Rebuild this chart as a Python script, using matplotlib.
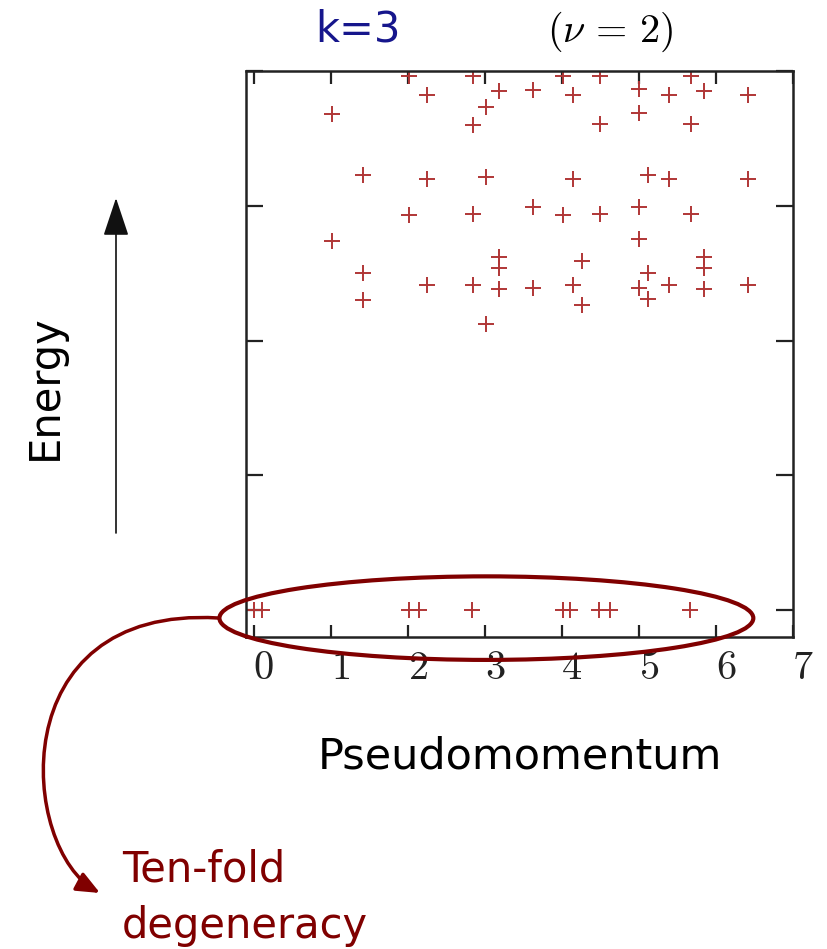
import matplotlib
matplotlib.use('Agg')
import matplotlib.pyplot as plt
from matplotlib.patches import Ellipse, FancyArrowPatch
from matplotlib.path import Path
from matplotlib.transforms import ScaledTranslation

plt.rcParams['font.family'] = ['DejaVu Sans']
plt.rcParams['mathtext.fontset'] = 'cm'

# ground-state manifold (E = 0)
ground_k = [0.0, 0.11, 2.01, 2.14, 2.83, 4.01, 4.11, 4.48, 4.62, 5.66]
ground_e = [0.0] * len(ground_k)

# excited states
excited_k = [1.02, 1.02,
             1.42, 1.42, 1.42,
             2.01, 2.01,
             2.25, 2.25, 2.25,
             2.85, 2.85, 2.85, 2.85,
             3.01, 3.01, 3.01,
             3.18, 3.18, 3.18, 3.18,
             3.63, 3.63, 3.63,
             4.01, 4.01,
             4.15, 4.15, 4.15,
             4.26, 4.26,
             4.50, 4.50, 4.50,
             5.00, 5.00, 5.00, 5.00, 5.00,
             5.12, 5.12, 5.12,
             5.39, 5.39, 5.39,
             5.67, 5.67, 5.67,
             5.85, 5.85, 5.85, 5.85,
             6.41, 6.41, 6.41]
excited_e = [3.68, 2.74,
             3.23, 2.50, 2.30,
             3.96, 2.93,
             3.82, 3.20, 2.41,
             3.96, 3.60, 2.94, 2.41,
             3.73, 3.21, 2.12,
             3.85, 2.62, 2.54, 2.38,
             3.86, 2.99, 2.39,
             3.96, 2.93,
             3.82, 3.20, 2.41,
             2.59, 2.26,
             3.96, 3.61, 2.94,
             3.87, 3.69, 2.99, 2.75, 2.39,
             3.23, 2.50, 2.31,
             3.82, 3.20, 2.41,
             3.96, 3.61, 2.94,
             3.85, 2.62, 2.54, 2.38,
             3.82, 3.20, 2.41]

x_ticks = list(range(8))
y_ticks = list(range(5))

W, H = 827, 949
fig = plt.figure(figsize=(W / 100, H / 100), dpi=100)


def fx(px):
    return px / W


def fy(py):
    return 1 - py / H


ax = fig.add_axes([fx(246), fy(637), fx(793) - fx(246), fy(71) - fy(637)])

cross = dict(marker='+', linestyle='none', color='#b03636', markersize=11, markeredgewidth=1.4)
ax.plot(excited_k, excited_e, **cross)
ax.plot(ground_k, ground_e, **cross)

ax.set_xlim(-0.1, 7)
ax.set_ylim(-0.2, 4.0)
ax.set_xticks(x_ticks)
ax.set_xticklabels([f'${t}$' for t in x_ticks], fontsize=29)
ax.set_yticks(y_ticks)
ax.set_yticklabels([])
ax.tick_params(axis='both', direction='in', top=True, right=True, width=1.6, colors='#222222')
ax.tick_params(axis='x', length=9, pad=8)
ax.tick_params(axis='y', length=12)
for lab in ax.get_xticklabels():
    lab.set_transform(lab.get_transform() + ScaledTranslation(0.1, 0, fig.dpi_scale_trans))
for sp in ax.spines.values():
    sp.set_linewidth(1.8)
    sp.set_color('#222222')

ax.set_xlabel('Pseudomomentum', fontsize=31, labelpad=34)

# ring around the degenerate ground states
ax.add_patch(Ellipse((3.02, -0.06), 6.93, 0.62, fill=False, edgecolor='#800000',
                     linewidth=3, clip_on=False, zorder=5))

# overlay in pixel units for the arrows
ov = fig.add_axes([0, 0, 1, 1])
ov.set_xlim(0, W)
ov.set_ylim(H, 0)
ov.axis('off')

ov.annotate('', xy=(116, 198), xytext=(116, 533),
            arrowprops=dict(arrowstyle='-|>,head_length=1.2,head_width=0.4',
                            mutation_scale=20, color='#111111', lw=1.2,
                            shrinkA=0, shrinkB=0))

curve = Path([(218, 618), (0, 605), (20, 850), (100, 893)],
             [Path.MOVETO, Path.CURVE4, Path.CURVE4, Path.CURVE4])
ov.add_patch(FancyArrowPatch(path=curve, arrowstyle='-|>,head_length=0.7,head_width=0.3',
                             mutation_scale=20, color='#800000', lw=2.5,
                             transform=ov.transData))

fig.text(fx(358), fy(30), 'k=3', color='#16168c', fontsize=30, ha='center', va='center')
fig.text(fx(610), fy(32), r'$(\nu\,=\,2)$', fontsize=29, ha='center', va='center')
fig.text(fx(45), fy(387), 'Energy', rotation=90, fontsize=30, ha='center', va='center')
fig.text(fx(122), fy(882), 'Ten-fold', color='#800000', fontsize=30, ha='left', va='baseline')
fig.text(fx(122), fy(938), 'degeneracy', color='#800000', fontsize=30, ha='left', va='baseline')

fig.savefig('out.png', dpi=100)
